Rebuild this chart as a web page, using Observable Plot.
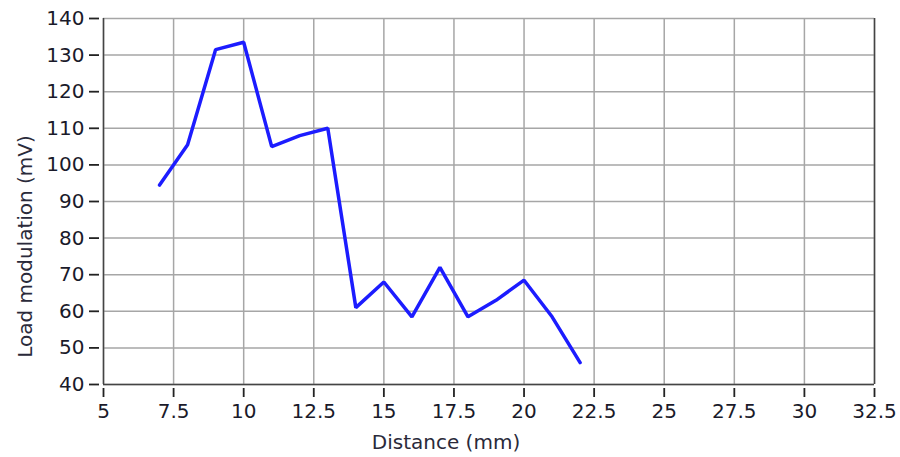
<!DOCTYPE html>
<html>
<head>
<meta charset="utf-8">
<script src="https://cdn.jsdelivr.net/npm/d3@7"></script>
<script src="https://cdn.jsdelivr.net/npm/@observablehq/plot@0.6"></script>
<style>
  html, body { margin: 0; padding: 0; background: #fff; }
  #chart { width: 900px; height: 457px; }
</style>
</head>
<body>
<div id="chart"></div>
<script>
const distance = [7, 8, 9, 10, 11, 12, 13, 14, 15, 16, 17, 18, 19, 20, 21, 22];
const loadModulation = [94.5, 105.5, 131.5, 133.5, 105, 108, 110, 61, 68, 58.5, 72, 58.5, 63, 68.5, 58.5, 46];
const xTicks = [5, 7.5, 10, 12.5, 15, 17.5, 20, 22.5, 25, 27.5, 30, 32.5];
const yTicks = [40, 50, 60, 70, 80, 90, 100, 110, 120, 130, 140];
const xLabel = "Distance (mm)";
const yLabel = "Load modulation (mV)";

const data = distance.map((d, i) => ({x: d, y: loadModulation[i]}));

const chart = Plot.plot({
  width: 900,
  height: 457,
  marginLeft: 103,
  marginRight: 26,
  marginTop: 18,
  marginBottom: 73,
  style: {fontFamily: "DejaVu Sans", fontSize: "20px", color: "#1a1a2a", background: "#fff"},
  x: {domain: [5, 32.5]},
  y: {domain: [40, 140]},
  marks: [
    Plot.gridX(xTicks, {stroke: "#a6a6a6", strokeOpacity: 1, strokeWidth: 1.5}),
    Plot.gridY(yTicks, {stroke: "#a6a6a6", strokeOpacity: 1, strokeWidth: 1.5}),
    Plot.ruleX([5, 32.5], {stroke: "#444", strokeWidth: 1.5}),
    Plot.ruleY([40], {stroke: "#444", strokeWidth: 1.5}),
    Plot.axisX({ticks: xTicks, tickFormat: d => String(d), tickSize: 9, dy: 4, tickPadding: 6, label: null, stroke: "#222", strokeWidth: 1.8, fill: "#1a1a2a"}),
    Plot.axisY({ticks: yTicks, tickFormat: d => String(d), tickSize: 10, dx: -4, tickPadding: 5, label: null, stroke: "#222", strokeWidth: 1.8, fill: "#1a1a2a"}),
    Plot.line(data, {x: "x", y: "y", stroke: "#1c1cff", strokeWidth: 3.5, strokeLinejoin: "miter"}),
    Plot.text([xLabel], {frameAnchor: "bottom", lineAnchor: "middle", dx: -43, dy: 58, fontSize: 20, fill: "#2a2a3a"}),
    Plot.text([yLabel], {frameAnchor: "left", textAnchor: "middle", rotate: -90, dx: -78, dy: 45, fontSize: 20, fill: "#2a2a3a"})
  ]
});
document.getElementById("chart").appendChild(chart);
</script>
</body>
</html>
